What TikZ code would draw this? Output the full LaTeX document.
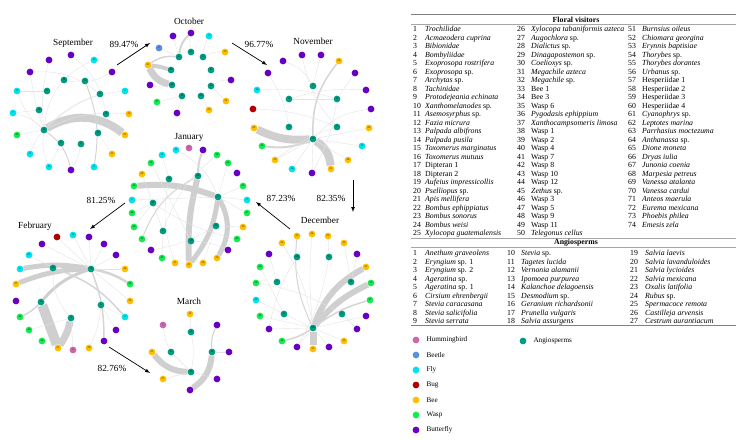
\documentclass[tikz,border=0pt]{standalone}
\usepackage{fontspec}
\setmainfont{Liberation Serif}
\usetikzlibrary{graphs,backgrounds}

\definecolor{hbirdc}{RGB}{204,102,170}
\definecolor{beetlec}{RGB}{91,141,224}
\definecolor{flyc}{RGB}{0,226,238}
\definecolor{bugc}{RGB}{176,0,0}
\definecolor{beec}{RGB}{255,190,0}
\definecolor{waspc}{RGB}{20,235,80}
\definecolor{bflyc}{RGB}{104,0,196}
\definecolor{angioc}{RGB}{0,156,130}

\newcommand{\tabfont}{\fontsize{7.8}{8.5}\selectfont}
\newcommand{\legfont}{\fontsize{7.2}{8}\selectfont}

\begin{document}
\begin{tikzpicture}[x=1pt, y=-1pt,
  main/.style={circle, minimum size=6.8pt, inner sep=0pt, font=\fontsize{2.6}{3}\selectfont},
  hbird/.style={main, fill=hbirdc}, beetle/.style={main, fill=beetlec},
  fly/.style={main, fill=flyc}, bug/.style={main, fill=bugc},
  bee/.style={main, fill=beec}, wasp/.style={main, fill=waspc},
  bfly/.style={main, fill=bflyc}, angio/.style={main, fill=angioc},
  tn/.style={draw=gray!22, line width=0.4pt},
  md/.style={draw=gray!33},
  tk/.style={draw=gray!38},
  mon/.style={font=\fontsize{9.3}{11}\selectfont},
  arr/.style={-latex, line width=0.7pt}]
\useasboundingbox (0,0) rectangle (736,439);

%September
\node[mon] (lsep) at (73,43) {September};
\node[bfly] (s1) at (49,60) {};
\node[bfly] (s2) at (71,55) {};
\node[fly] (s3) at (94,60) {15};
\node[bfly] (s4) at (30,72) {};
\node[bfly] (s5) at (112,72) {};
\node[fly] (s6) at (17,91) {17};
\node[angio] (s7) at (64,80) {10};
\node[angio] (s8) at (85,81) {12};
\node[angio] (s9) at (47,91) {11};
\node[angio] (s10) at (100,94) {2};
\node[fly] (s11) at (125,91) {3};
\node[fly] (s12) at (13,113) {7};
\node[angio] (s13) at (39,110) {16};
\node[angio] (s14) at (106,114) {18};
\node[bee] (s15) at (129,114) {22};
\node[wasp] (s16) at (17,135) {42};
\node[angio] (s17) at (44,130) {14};
\node[angio] (s18) at (98,133) {13};
\node[bee] (s19) at (125,135) {21};
\node[angio] (s20) at (61,143) {9};
\node[angio] (s21) at (81,144) {5};
\node[bee] (s22) at (112,154) {23};
\node[fly] (s23) at (30,154) {8};
\node[fly] (s24) at (49,167) {6};
\node[bfly] (s25) at (71,170) {};
\node[fly] (s26) at (94,167) {5};

%October
\node[mon] (loct) at (189,21) {October};
\node[bfly] (o1) at (173,36) {};
\node[bfly] (o2) at (191,33) {};
\node[fly] (o3) at (209,36) {3};
\node[beetle] (o4) at (159,48) {2};
\node[angio] (o5) at (179,57) {8};
\node[angio] (o6) at (191,52) {6};
\node[angio] (o7) at (203,57) {9};
\node[bee] (o8) at (225,52) {29};
\node[bee] (o9) at (148,65) {21};
\node[angio] (o10) at (171,70) {20};
\node[angio] (o11) at (211,70) {11};
\node[bfly] (o12) at (150,85) {};
\node[angio] (o13) at (172,85) {24};
\node[angio] (o14) at (211,86) {13};
\node[bfly] (o15) at (231,80) {};
\node[wasp] (o16) at (157,102) {37};
\node[angio] (o17) at (182,96) {15};
\node[angio] (o18) at (201,96) {25};
\node[bee] (o19) at (226,101) {22};
\node[bfly] (o20) at (177,113) {};
\node[bee] (o21) at (209,110) {23};

%November
\node[mon] (lnov) at (313,41) {November};
\node[bfly] (n1) at (283,61) {};
\node[bfly] (n2) at (302,55) {};
\node[bfly] (n3) at (321,55) {};
\node[bee] (n4) at (339,61) {24};
\node[bfly] (n5) at (268,73) {};
\node[bfly] (n6) at (355,73) {};
\node[fly] (n7) at (257,90) {14};
\node[angio] (n8) at (313,86) {7};
\node[bfly] (n9) at (366,90) {};
\node[angio] (n10) at (289,99) {11};
\node[angio] (n11) at (337,99) {8};
\node[bug] (n12) at (253,109) {};
\node[bfly] (n13) at (371,109) {};
\node[bee] (n14) at (254,128) {22};
\node[angio] (n15) at (289,127) {4};
\node[angio] (n16) at (337,127) {5};
\node[bee] (n17) at (369,128) {25};
\node[wasp] (n18) at (262,146) {39};
\node[angio] (n19) at (313,139) {20};
\node[fly] (n20) at (362,146) {15};
\node[bee] (n21) at (275,160) {23};
\node[fly] (n22) at (292,169) {18};
\node[bfly] (n23) at (312,173) {};
\node[bee] (n24) at (331,169) {21};
\node[bee] (n25) at (348,160) {28};

%January
\node[mon] (ljan) at (189,137) {January};
\node[hbird] (j1) at (189,148) {1};
\node[fly] (j2) at (176,150) {11};
\node[fly] (j3) at (162,155) {13};
\node[bfly] (j4) at (203,150) {};
\node[wasp] (j5) at (217,155) {38};
\node[wasp] (j6) at (228,163) {64};
\node[wasp] (j7) at (151,163) {39};
\node[bfly] (j8) at (237,173) {};
\node[bee] (j9) at (142,174) {29};
\node[angio] (j10) at (169,179) {12};
\node[angio] (j11) at (198,176) {20};
\node[wasp] (j12) at (243,186) {49};
\node[wasp] (j13) at (134,186) {40};
\node[angio] (j14) at (218,197) {2};
\node[fly] (j15) at (132,200) {5};
\node[angio] (j16) at (153,203) {22};
\node[fly] (j17) at (247,200) {3};
\node[wasp] (j18) at (132,213) {48};
\node[wasp] (j19) at (247,213) {47};
\node[wasp] (j20) at (134,227) {28};
\node[angio] (j21) at (163,231) {6};
\node[angio] (j22) at (216,226) {24};
\node[bee] (j23) at (243,227) {33};
\node[wasp] (j24) at (142,239) {41};
\node[angio] (j25) at (191,241) {19};
\node[wasp] (j26) at (237,239) {43};
\node[bfly] (j27) at (151,250) {};
\node[bfly] (j28) at (228,250) {};
\node[wasp] (j29) at (162,258) {42};
\node[bee] (j30) at (175,263) {31};
\node[bee] (j31) at (189,265) {21};
\node[bee] (j32) at (203,263) {28};
\node[bee] (j33) at (217,258) {25};

%December
\node[mon] (ldec) at (320,220) {December};
\node[bee] (d1) at (282,243) {29};
\node[bee] (d2) at (297,236) {25};
\node[bee] (d3) at (312,234) {24};
\node[bee] (d4) at (328,236) {23};
\node[bee] (d5) at (344,243) {35};
\node[bfly] (d6) at (269,254) {};
\node[angio] (d7) at (297,257) {26};
\node[angio] (d8) at (329,257) {5};
\node[bfly] (d9) at (357,254) {};
\node[wasp] (d10) at (260,267) {58};
\node[bee] (d11) at (366,267) {22};
\node[wasp] (d12) at (256,283) {38};
\node[angio] (d13) at (277,282) {7};
\node[angio] (d14) at (351,282) {12};
\node[wasp] (d15) at (371,283) {39};
\node[fly] (d16) at (256,300) {12};
\node[wasp] (d17) at (370,300) {47};
\node[wasp] (d18) at (260,316) {45};
\node[angio] (d19) at (284,314) {6};
\node[angio] (d20) at (342,314) {3};
\node[bfly] (d21) at (366,316) {};
\node[bfly] (d22) at (269,329) {};
\node[angio] (d23) at (313,328) {20};
\node[bfly] (d24) at (357,329) {};
\node[wasp] (d25) at (282,341) {40};
\node[bee] (d26) at (344,341) {33};
\node[bfly] (d27) at (297,347) {};
\node[bee] (d28) at (313,349) {21};
\node[bfly] (d29) at (329,347) {};

%February
\node[mon] (lfeb) at (35,226) {February};
\node[bug] (f1) at (57,237) {};
\node[fly] (f2) at (73,235) {8};
\node[bfly] (f3) at (89,237) {};
\node[bfly] (f4) at (42,244) {};
\node[bfly] (f5) at (104,244) {};
\node[fly] (f6) at (29,255) {51};
\node[bfly] (f7) at (116,255) {};
\node[fly] (f8) at (20,269) {6};
\node[angio] (f9) at (53,268) {12};
\node[angio] (f10) at (91,269) {10};
\node[bee] (f11) at (125,269) {34};
\node[bee] (f12) at (16,284) {27};
\node[wasp] (f13) at (130,284) {49};
\node[bfly] (f14) at (16,301) {};
\node[angio] (f15) at (41,302) {4};
\node[angio] (f16) at (101,305) {6};
\node[bee] (f17) at (130,301) {30};
\node[wasp] (f18) at (20,317) {38};
\node[angio] (f19) at (71,318) {3};
\node[fly] (f20) at (125,317) {4};
\node[wasp] (f21) at (29,330) {40};
\node[bfly] (f22) at (116,330) {};
\node[wasp] (f23) at (42,341) {36};
\node[bfly] (f24) at (104,341) {};
\node[bee] (f25) at (58,348) {21};
\node[hbird] (f26) at (73,350) {1};
\node[bee] (f27) at (89,348) {28};

%March
\node[mon] (lmar) at (189,301) {March};
\node[bee] (m1) at (190,314) {32};
\node[hbird] (m2) at (163,325) {1};
\node[angio] (m3) at (191,332) {4};
\node[bfly] (m4) at (217,325) {};
\node[bee] (m5) at (152,352) {21};
\node[angio] (m6) at (171,352) {6};
\node[angio] (m7) at (212,352) {12};
\node[bfly] (m8) at (229,352) {};
\node[angio] (m9) at (191,372) {13};
\node[bee] (m10) at (163,379) {27};
\node[bfly] (m11) at (217,379) {};
\node[bfly] (m12) at (190,390) {};

%Kantene
\begin{scope}[on background layer]
\graph {
(s17) --[tk, line width=8pt, bend left=35] (s19);
(s17) --[tn, bend left=10] (s1);
(s17) --[tn, bend left=5] (s4);
(s17) --[tn, bend left=15] (s6);
(s17) --[tn, bend right=15] (s12);
(s17) --[tn] (s16);
(s17) --[tn, bend right=10] (s23);
(s17) --[tn, bend right=15] (s24);
(s17) --[md, line width=1pt, bend left=20] (s25);
(s17) --[tn, bend left=30] (s3);
(s17) --[tn, bend left=20] (s11);
(s17) --[tn, bend left=15] (s15);
(s17) --[tn, bend left=10] (s10);
(s8) --[md, line width=1pt, bend left=15] (s26);
(s14) --[tn, bend right=20] (s2);
(s7) --[tn, bend right=20] (s5);
(s9) --[tn] (s6);
(s13) --[tn] (s12);
(s20) --[tn] (s24);
(s21) --[tn, bend left=10] (s25);
(s18) --[tn] (s22);
(s10) --[tn, bend right=20] (s4);
};
\graph {
(o9) --[tk, line width=7pt, bend right=25] (o13);
(o9) --[tk, line width=4pt, bend left=5] (o10);
(o9) --[md, line width=1.5pt, bend left=20] (o5);
(o5) --[md, line width=2pt, bend left=20] (o2);
(o5) --[tn] (o1);
(o5) --[tn] (o4);
(o6) --[tn, bend left=10] (o2);
(o7) --[tn, bend left=10] (o3);
(o7) --[tn, bend left=15] (o8);
(o13) --[tn, bend left=15] (o12);
(o14) --[tn, bend left=15] (o15);
(o14) --[tn] (o19);
(o17) --[tn] (o20);
(o18) --[tn] (o21);
(o16) --[tn] (o17);
};
\graph {
(n14) --[tk, line width=8pt, bend right=15] (n19);
(n19) --[tk, line width=8pt, bend left=25] (n24);
(n18) --[md, line width=2pt, bend right=15] (n19);
(n19) --[md, line width=1.5pt, bend left=20] (n4);
(n19) --[tn] (n22);
(n19) --[tn] (n23);
(n19) --[tn] (n21);
(n19) --[tn] (n25);
(n19) --[tn] (n20);
(n19) --[tn] (n17);
(n19) --[tn, bend left=20] (n13);
(n8) --[tn, bend right=20] (n1);
(n10) --[tn] (n11);
(n10) --[tn, bend left=10] (n9);
(n11) --[tn] (n6);
(n11) --[tn, bend left=10] (n23);
(n16) --[tn, bend right=10] (n21);
(n15) --[tn, bend right=10] (n5);
(n7) --[tn, bend left=10] (n11);
(n12) --[tn, bend left=10] (n16);
(n2) --[tn, bend right=15] (n16);
(n3) --[tn] (n8);
};
\graph {
(j13) --[tk, line width=6pt, bend left=12] (j14);
(j11) --[tk, line width=6pt, bend right=8] (j31);
(j14) --[tk, line width=5pt, bend left=15] (j31);
(j14) --[tk, line width=5pt, bend left=30] (j33);
(j11) --[md, line width=2pt, bend left=10] (j4);
(j11) --[md, line width=1pt, bend right=20] (j24);
(j14) --[tn] (j12);
(j14) --[tn] (j17);
(j14) --[tn] (j19);
(j14) --[tn] (j6);
(j14) --[tn] (j15);
(j14) --[tn, bend right=20] (j2);
(j22) --[tn] (j23);
(j22) --[tn] (j32);
(j22) --[tn, bend left=10] (j27);
(j10) --[tn, bend right=15] (j30);
(j10) --[tn] (j3);
(j16) --[tn, bend right=10] (j26);
(j16) --[tn] (j18);
(j16) --[tn] (j20);
(j21) --[tn] (j9);
(j21) --[tn] (j29);
(j25) --[tn, bend left=10] (j28);
(j25) --[tn] (j7);
(j5) --[tn, bend right=15] (j21);
};
\graph {
(d23) --[tk, line width=6pt, bend left=20] (d11);
(d23) --[tk, line width=6pt, bend left=12] (d15);
(d23) --[tk, line width=7pt] (d28);
(d23) --[md, line width=1.5pt, bend left=10] (d17);
(d25) --[md, line width=1.5pt, bend right=10] (d23);
(d23) --[md, line width=1pt, bend left=15] (d2);
(d23) --[tn, bend left=5] (d3);
(d23) --[tn, bend right=10] (d1);
(d23) --[tn] (d16);
(d23) --[tn] (d18);
(d23) --[tn] (d21);
(d23) --[tn] (d26);
(d23) --[tn] (d29);
(d23) --[tn] (d27);
(d23) --[tn] (d22);
(d13) --[tn] (d6);
(d8) --[tn, bend left=10] (d27);
(d19) --[tn] (d10);
(d20) --[tn, bend right=10] (d12);
(d14) --[tn] (d5);
(d20) --[tn] (d24);
(d14) --[tn] (d9);
(d7) --[tn, bend right=10] (d22);
(d8) --[tn] (d4);
};
\graph {
(f15) --[tk, line width=10pt] (f25);
(f19) --[tk, line width=7pt, bend left=10] (f25);
(f8) --[tk, line width=5pt, bend left=10] (f10);
(f12) --[tk, line width=5pt, bend left=10] (f10);
(f15) --[tk, line width=3pt, bend left=15] (f10);
(f10) --[md, line width=2.5pt, bend left=10] (f13);
(f9) --[md, line width=1.5pt, bend left=15] (f20);
(f10) --[md, line width=1.5pt, bend left=10] (f24);
(f18) --[md, line width=1.5pt, bend right=10] (f15);
(f21) --[tn] (f19);
(f10) --[tn] (f1);
(f10) --[tn] (f2);
(f10) --[tn] (f3);
(f10) --[tn] (f4);
(f10) --[tn] (f5);
(f10) --[tn] (f7);
(f10) --[tn] (f11);
(f10) --[tn] (f17);
(f16) --[tn] (f22);
(f16) --[tn] (f20);
(f16) --[tn, bend left=10] (f27);
(f9) --[tn] (f6);
(f9) --[tn, bend right=20] (f19);
(f19) --[tn] (f26);
};
\graph {
(m5) --[tk, line width=6pt, bend right=25] (m9);
(m7) --[tk, line width=6pt, bend left=25] (m12);
(m7) --[md, line width=1.2pt, bend left=15] (m4);
(m7) --[tn] (m8);
(m2) --[tn, bend right=10] (m6);
(m1) --[tn] (m3);
(m3) --[tn, bend left=10] (m9);
(m6) --[tn] (m9);
(m9) --[tn] (m10);
(m9) --[tn] (m11);
};
\end{scope}

%piler mellom maanedene
\coordinate (p1) at (117,65); \coordinate (p2) at (150,43);
\coordinate (p3) at (232,43); \coordinate (p4) at (267,65);
\coordinate (p5) at (353,180); \coordinate (p6) at (353,212);
\coordinate (p7) at (290,229); \coordinate (p8) at (256,202);
\coordinate (p9) at (125,203); \coordinate (p10) at (90,229);
\coordinate (p11) at (109,347); \coordinate (p12) at (150,373);
\draw[arr] (p1) -- (p2);
\draw[arr] (p3) -- (p4);
\draw[arr] (p5) -- (p6);
\draw[arr] (p7) -- (p8);
\draw[arr] (p9) -- (p10);
\draw[arr] (p11) -- (p12);
\node[mon] (q1) at (124,44) {89.47\%};
\node[mon] (q2) at (259,44) {96.77\%};
\node[mon] (q3) at (331,198) {82.35\%};
\node[mon] (q4) at (281,198) {87.23\%};
\node[mon] (q5) at (101,200) {81.25\%};
\node[mon] (q6) at (112,368) {82.76\%};

%tabellen
\draw[gray, line width=1pt] (411,14.5) -- (736,14.5);
\draw[gray!70, line width=0.4pt] (411,24) -- (736,24);
\draw[gray!70, line width=0.4pt] (411,238) -- (736,238);
\draw[gray!70, line width=0.4pt] (411,247) -- (736,247);
\draw[gray, line width=1pt] (411,325.5) -- (736,325.5);
\node[font=\tabfont\bfseries] (hvis) at (576,19.5) {Floral visitors};
\node[font=\tabfont\bfseries] (hang) at (576,242.5) {Angiosperms};

\node[anchor=north west, inner sep=0pt, font=\tabfont] (visA) at (413,25.7) {%
\begin{tabular}{@{}p{12pt}@{}l@{}}
1 & \textit{Trochilidae}\\
2 & \textit{Acmaeodera cuprina}\\
3 & \textit{Bibionidae}\\
4 & \textit{Bombyliidae}\\
5 & \textit{Exoprosopa rostrifera}\\
6 & \textit{Exoprosopa} sp.\\
7 & \textit{Archytas} sp.\\
8 & \textit{Tachinidae}\\
9 & \textit{Protodejeania echinata}\\
10 & \textit{Xanthomelanodes} sp.\\
11 & \textit{Asemosyrphus} sp.\\
12 & \textit{Fazia micrura}\\
13 & \textit{Palpada albifrons}\\
14 & \textit{Palpada pusila}\\
15 & \textit{Toxomerus marginatus}\\
16 & \textit{Toxomerus mutuus}\\
17 & Dipteran 1\\
18 & Dipteran 2\\
19 & \textit{Aufeius impressicollis}\\
20 & \textit{Pselliopus} sp.\\
21 & \textit{Apis mellifera}\\
22 & \textit{Bombus ephippiatus}\\
23 & \textit{Bombus sonorus}\\
24 & \textit{Bombus weisi}\\
25 & \textit{Xylocopa guatemalensis}
\end{tabular}};
\node[anchor=north west, inner sep=0pt, font=\tabfont] (visB) at (517,25.7) {%
\begin{tabular}{@{}p{14pt}@{}l@{}}
26 & \textit{Xylocopa tabaniformis azteca}\\
27 & \textit{Augochlora} sp.\\
28 & \textit{Dialictus} sp.\\
29 & \textit{Dinagapostemon} sp.\\
30 & \textit{Coelioxys} sp.\\
31 & \textit{Megachile azteca}\\
32 & \textit{Megachile} sp.\\
33 & Bee 1\\
34 & Bee 3\\
35 & Wasp 6\\
36 & \textit{Pygodasis ephippium}\\
37 & \textit{Xanthocampsomeris limosa}\\
38 & Wasp 1\\
39 & Wasp 2\\
40 & Wasp 4\\
41 & Wasp 7\\
42 & Wasp 8\\
43 & Wasp 10\\
44 & Wasp 12\\
45 & \textit{Zethus} sp.\\
46 & Wasp 3\\
47 & Wasp 5\\
48 & Wasp 9\\
49 & Wasp 11\\
50 & \textit{Telegonus cellus}
\end{tabular}};
\node[anchor=north west, inner sep=0pt, font=\tabfont] (visC) at (628,25.7) {%
\begin{tabular}{@{}p{14pt}@{}l@{}}
51 & \textit{Burnsius oileus}\\
52 & \textit{Chiomara georgina}\\
53 & \textit{Erynnis baptisiae}\\
54 & \textit{Thorybes} sp.\\
55 & \textit{Thorybes dorantes}\\
56 & \textit{Urbanus} sp.\\
57 & Hesperiidae 1\\
58 & Hesperiidae 2\\
59 & Hesperiidae 3\\
60 & Hesperiidae 4\\
61 & \textit{Cyanophrys} sp.\\
62 & \textit{Leptotes marina}\\
63 & \textit{Parrhasius moctezuma}\\
64 & \textit{Anthanassa} sp.\\
65 & \textit{Dione moneta}\\
66 & \textit{Dryas iulia}\\
67 & \textit{Junonia coenia}\\
68 & \textit{Marpesia petreus}\\
69 & \textit{Vanessa atalanta}\\
70 & \textit{Vanessa cardui}\\
71 & \textit{Anteos maerula}\\
72 & \textit{Eurema mexicana}\\
73 & \textit{Phoebis philea}\\
74 & \textit{Emesis zela}
\end{tabular}};

\node[anchor=north west, inner sep=0pt, font=\tabfont] (angA) at (413,249.7) {%
\begin{tabular}{@{}p{12pt}@{}l@{}}
1 & \textit{Anethum graveolens}\\
2 & \textit{Eryngium} sp. 1\\
3 & \textit{Eryngium} sp. 2\\
4 & \textit{Ageratina} sp.\\
5 & \textit{Ageratina} sp. 1\\
6 & \textit{Cirsium ehrenbergii}\\
7 & \textit{Stevia caracasana}\\
8 & \textit{Stevia salicifolia}\\
9 & \textit{Stevia serrata}
\end{tabular}};
\node[anchor=north west, inner sep=0pt, font=\tabfont] (angB) at (507,249.7) {%
\begin{tabular}{@{}p{14pt}@{}l@{}}
10 & \textit{Stevia} sp.\\
11 & \textit{Tagetes lucida}\\
12 & \textit{Vernonia alamanii}\\
13 & \textit{Ipomoea purpurea}\\
14 & \textit{Kalanchoe delagoensis}\\
15 & \textit{Desmodium} sp.\\
16 & \textit{Geranium richardsonii}\\
17 & \textit{Prunella vulgaris}\\
18 & \textit{Salvia assurgens}
\end{tabular}};
\node[anchor=north west, inner sep=0pt, font=\tabfont] (angC) at (630,249.7) {%
\begin{tabular}{@{}p{15pt}@{}l@{}}
19 & \textit{Salvia laevis}\\
20 & \textit{Salvia lavanduloides}\\
21 & \textit{Salvia lycioides}\\
22 & \textit{Salvia mexicana}\\
23 & \textit{Oxalis latifolia}\\
24 & \textit{Rubus} sp.\\
25 & \textit{Spermacoce remota}\\
26 & \textit{Castilleja arvensis}\\
27 & \textit{Cestrum aurantiacum}
\end{tabular}};

%forklaring
\node[hbird] (lg1) at (416,340) {};
\node[beetle] (lg2) at (416,355) {};
\node[fly] (lg3) at (416,370) {};
\node[bug] (lg4) at (416,385) {};
\node[bee] (lg5) at (416,400) {};
\node[wasp] (lg6) at (416,415) {};
\node[bfly] (lg7) at (416,430) {};
\node[angio] (lg8) at (523,341) {};
\node[anchor=west, font=\legfont] (lt1) at (423,340) {Hummingbird};
\node[anchor=west, font=\legfont] (lt2) at (423,355) {Beetle};
\node[anchor=west, font=\legfont] (lt3) at (423,370) {Fly};
\node[anchor=west, font=\legfont] (lt4) at (423,385) {Bug};
\node[anchor=west, font=\legfont] (lt5) at (423,400) {Bee};
\node[anchor=west, font=\legfont] (lt6) at (423,415) {Wasp};
\node[anchor=west, font=\legfont] (lt7) at (423,430) {Butterfly};
\node[anchor=west, font=\legfont] (lt8) at (530,341) {Angiosperms};
\end{tikzpicture}
\end{document}
